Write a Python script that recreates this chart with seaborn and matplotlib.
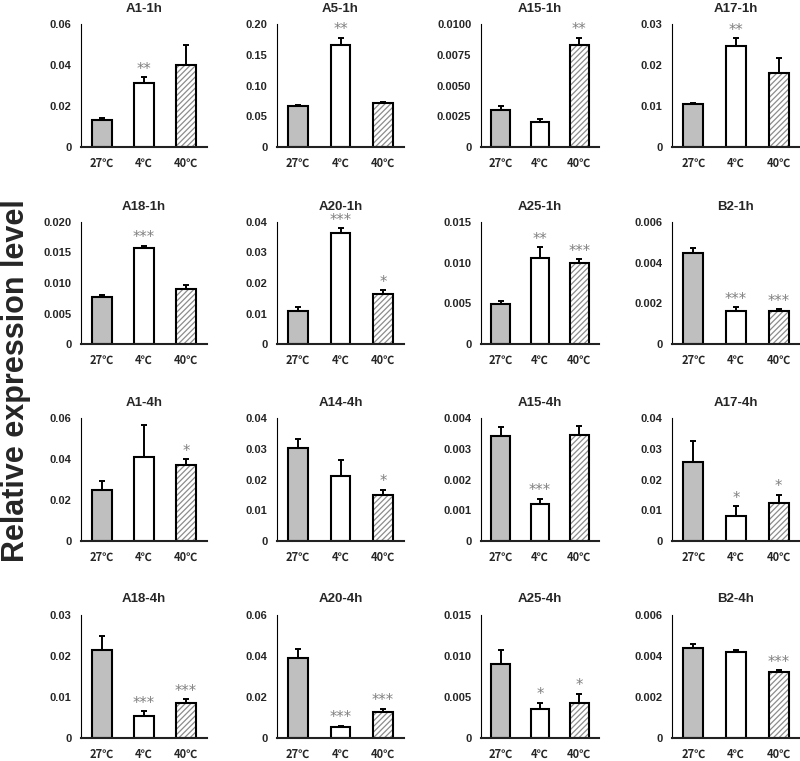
import numpy as np
import pandas as pd
import seaborn as sns
import matplotlib.pyplot as plt
from matplotlib.patches import Rectangle

# Daten: Mittelwert, Fehler (nur nach oben) und Signifikanz je Panel
titles = ['A1-1h', 'A5-1h', 'A15-1h', 'A17-1h',
          'A18-1h', 'A20-1h', 'A25-1h', 'B2-1h',
          'A1-4h', 'A14-4h', 'A15-4h', 'A17-4h',
          'A18-4h', 'A20-4h', 'A25-4h', 'B2-4h']
conditions = ['27℃', '4℃', '40℃']

means = [
    [0.013, 0.031, 0.040],
    [0.067, 0.166, 0.071],
    [0.0030, 0.0020, 0.0083],
    [0.0105, 0.0247, 0.0180],
    [0.0077, 0.0158, 0.0090],
    [0.0107, 0.0365, 0.0163],
    [0.0049, 0.0106, 0.0099],
    [0.0045, 0.0016, 0.0016],
    [0.025, 0.041, 0.037],
    [0.0303, 0.0210, 0.0150],
    [0.0034, 0.0012, 0.00344],
    [0.0257, 0.0081, 0.0123],
    [0.0215, 0.0053, 0.0085],
    [0.039, 0.0052, 0.0128],
    [0.0090, 0.0035, 0.0043],
    [0.0044, 0.0042, 0.0032],
]
errors = [
    [0.001, 0.003, 0.010],
    [0.002, 0.012, 0.002],
    [0.0003, 0.0003, 0.0006],
    [0.0003, 0.0018, 0.0037],
    [0.0003, 0.0003, 0.0007],
    [0.0015, 0.0015, 0.0013],
    [0.0004, 0.0013, 0.0005],
    [0.0002, 0.0002, 0.0001],
    [0.0045, 0.0155, 0.003],
    [0.003, 0.0055, 0.0017],
    [0.0003, 0.00017, 0.0003],
    [0.0068, 0.0032, 0.0028],
    [0.0035, 0.0012, 0.001],
    [0.0045, 0.0007, 0.0015],
    [0.0017, 0.0008, 0.0011],
    [0.0002, 0.0001, 0.0001],
]
stars = [
    ['', '**', ''], ['', '**', ''], ['', '', '**'], ['', '**', ''],
    ['', '***', ''], ['', '***', '*'], ['', '**', '***'], ['', '***', '***'],
    ['', '', '*'], ['', '', '*'], ['', '***', ''], ['', '*', '*'],
    ['', '***', '***'], ['', '***', '***'], ['', '*', '*'], ['', '', '***'],
]
y_max = [0.06, 0.20, 0.01, 0.03, 0.020, 0.04, 0.015, 0.006,
         0.06, 0.04, 0.004, 0.04, 0.03, 0.06, 0.015, 0.006]
y_step = [0.02, 0.05, 0.0025, 0.01, 0.005, 0.01, 0.005, 0.002,
          0.02, 0.01, 0.001, 0.01, 0.01, 0.02, 0.005, 0.002]
y_dec = [2, 2, 4, 2, 3, 2, 3, 3, 2, 2, 3, 2, 2, 2, 3, 3]

sns.set_style('white')
plt.rcParams['font.family'] = ['Liberation Sans', 'DejaVu Sans']
plt.rcParams['hatch.linewidth'] = 0.9

fig = plt.figure(figsize=(8, 7.61), dpi=100)
W, H = 800, 761
col_x = [(81, 207), (277, 404), (481, 599), (672, 800)]
row_y = [(24, 147), (222, 344), (418, 541), (615, 738)]
colors = ['#bfbfbf', 'white', 'white']

for i, title in enumerate(titles):
    r, c = divmod(i, 4)
    x0, x1 = col_x[c]
    y0, y1 = row_y[r]
    ax = fig.add_axes([x0 / W, 1 - y1 / H, (x1 - x0) / W, (y1 - y0) / H])

    df = pd.DataFrame({'cond': conditions, 'val': means[i]})
    sns.barplot(data=df, x='cond', y='val', hue='cond', order=conditions,
                hue_order=conditions, palette=colors, legend=False,
                edgecolor='black', linewidth=1.5, width=0.47,
                errorbar=None, ax=ax)
    # schraffierter Balken: graue Schraffur, schwarzer Rand darueber
    hp = ax.patches[2]
    hp.set_hatch('//////')
    hp.set_edgecolor('#8c8c8c')
    hp.set_linewidth(0)
    ax.add_patch(Rectangle(hp.get_xy(), hp.get_width(), hp.get_height(),
                           fill=False, edgecolor='black', linewidth=1.5,
                           zorder=hp.get_zorder() + 0.1))

    ax.errorbar(x=[0, 1, 2], y=means[i], yerr=[np.zeros(3), errors[i]],
                fmt='none', ecolor='black', elinewidth=1.4, capsize=2,
                capthick=1.4, zorder=3)

    for k in range(3):
        if stars[i][k]:
            ax.text(k, means[i][k] + errors[i][k] + y_max[i] * 0.004,
                    stars[i][k], ha='center', va='bottom', fontsize=10.5,
                    color='#808080', family='DejaVu Sans')

    ticks = np.arange(0, y_max[i] + y_step[i] / 2, y_step[i])
    ax.set_ylim(0, y_max[i])
    ax.set_yticks(ticks)
    ax.set_yticklabels(['0'] + [f'{t:.{y_dec[i]}f}' for t in ticks[1:]],
                       fontsize=8, fontweight='bold')
    ax.set_xlim(-0.5, 2.5)
    ax.set_xticks([0, 1, 2])
    ax.set_xticklabels(conditions, fontsize=8, fontweight='bold',
                       family=['Noto Sans CJK JP', 'DejaVu Sans'])
    ax.tick_params(axis='y', length=0, pad=7)
    ax.tick_params(axis='x', length=0, pad=7)
    ax.set_xlabel('')
    ax.set_ylabel('')
    ax.set_title(title, fontsize=9.5, fontweight='bold', pad=9)

    for s in ['top', 'right']:
        ax.spines[s].set_visible(False)
    ax.spines['left'].set_color('black')
    ax.spines['left'].set_linewidth(0.8)
    ax.spines['bottom'].set_color('#222222')
    ax.spines['bottom'].set_linewidth(1.5)

fig.text(0.02, 0.5, 'Relative expression level', rotation=90,
         ha='center', va='center', fontsize=22, fontweight='bold')

plt.savefig('out.png', dpi=100)
